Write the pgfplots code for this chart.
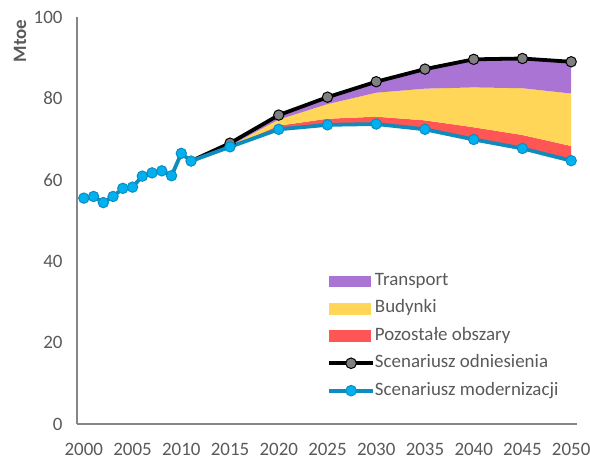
\documentclass[border=0pt]{standalone}
\usepackage{fontspec}
\setmainfont{Carlito}
\usepackage{pgfplots}
\pgfplotsset{compat=1.18}
\usepgfplotslibrary{fillbetween}
\definecolor{cpurple}{RGB}{170,116,212}
\definecolor{cyellow}{RGB}{255,214,88}
\definecolor{cred}{RGB}{255,85,85}
\definecolor{cblueline}{RGB}{14,140,190}
\definecolor{cbluefill}{RGB}{0,176,240}
\definecolor{cgrayfill}{RGB}{128,128,128}
\definecolor{ctext}{RGB}{89,89,89}
\definecolor{caxis}{RGB}{134,134,134}
\begin{document}
\begin{tikzpicture}
\path (0bp,0bp) rectangle (590bp,460bp);
\begin{axis}[
  at={(77bp,36bp)}, anchor=south west,
  scale only axis, width=500bp, height=407bp,
  xmin=1999.3, xmax=2050.6, ymin=0, ymax=100,
  axis x line*=bottom, axis y line*=left,
  axis line style={caxis, line width=1.4pt},
  xtick={2000,2005,...,2050}, ytick={0,20,...,100},
  major tick length=0pt,
  /pgf/number format/assume math mode=true,
  x tick label style={/pgf/number format/set thousands separator={}},
  tick label style={font=\fontsize{19}{22}\selectfont, text=ctext},
  yticklabel style={xshift=-11bp},
  xticklabel style={yshift=-16bp},
  legend cell align=left,
  legend style={at={(0.494,0.375)}, anchor=north west, draw=none, fill=none,
    font=\fontsize{19}{22}\selectfont, text=ctext, row sep=12.4bp,
    nodes={inner sep=0bp, text height=12bp, text depth=3bp}},
]
% boundaries
\addplot[draw=none, name path=blueb, forget plot] coordinates {(2015,68.1)(2020,72.4)(2025,73.5)(2030,73.7)(2035,72.4)(2040,69.9)(2045,67.7)(2050,64.7)};
\addplot[draw=none, name path=redb, forget plot] coordinates {(2015,68.2)(2020,73.3)(2025,75.0)(2030,75.5)(2035,74.6)(2040,72.9)(2045,71.0)(2050,68.3)};
\addplot[draw=none, name path=yelb, forget plot] coordinates {(2015,68.4)(2020,74.8)(2025,78.6)(2030,81.4)(2035,82.4)(2040,82.7)(2045,82.5)(2050,81.2)};
\addplot[draw=none, name path=blkb, forget plot] coordinates {(2015,69.0)(2020,75.9)(2025,80.3)(2030,84.1)(2035,87.2)(2040,89.6)(2045,89.8)(2050,89.0)};
\addplot[cred, forget plot] fill between[of=blueb and redb];
\addplot[cyellow, forget plot] fill between[of=redb and yelb];
\addplot[cpurple, forget plot] fill between[of=yelb and blkb];
% lines
\addplot[black, line width=3.8pt, mark=*, mark indices={2,3,4,5,6,7,8,9}, mark size=5.2bp,
  mark options={fill=cgrayfill, draw=black, line width=1pt}, forget plot]
  coordinates {(2011,64.6)(2015,69.0)(2020,75.9)(2025,80.3)(2030,84.1)(2035,87.2)(2040,89.6)(2045,89.8)(2050,89.0)};
\addplot[cblueline, line width=3.8pt, mark=*, mark size=5.2bp,
  mark options={fill=cbluefill, draw=cblueline, line width=1pt}, forget plot]
  coordinates {(2000,55.5)(2001,55.9)(2002,54.4)(2003,55.9)(2004,57.9)(2005,58.2)(2006,60.9)(2007,61.7)(2008,62.2)(2009,61.0)(2010,66.5)(2011,64.6)(2015,68.1)(2020,72.4)(2025,73.5)(2030,73.7)(2035,72.4)(2040,69.9)(2045,67.7)(2050,64.7)};
% legend
\addlegendimage{legend image code/.code={\fill[cpurple] (0bp,-5.3bp) rectangle (41bp,5.3bp);}}
\addlegendentry{Transport}
\addlegendimage{legend image code/.code={\fill[cyellow] (0bp,-5.3bp) rectangle (41bp,5.3bp);}}
\addlegendentry{Budynki}
\addlegendimage{legend image code/.code={\fill[cred] (0bp,-5.3bp) rectangle (41bp,5.3bp);}}
\addlegendentry{Pozostałe obszary}
\addlegendimage{legend image code/.code={\draw[black, line width=3.8pt] (0bp,0bp) -- (44bp,0bp); \filldraw[fill=cgrayfill, draw=black, line width=1pt] (22bp,0bp) circle (5.3bp);}}
\addlegendentry{Scenariusz odniesienia}
\addlegendimage{legend image code/.code={\draw[cblueline, line width=3.8pt] (0bp,0bp) -- (44bp,0bp); \filldraw[fill=cbluefill, draw=cblueline, line width=1pt] (22bp,0bp) circle (5.3bp);}}
\addlegendentry{Scenariusz modernizacji}
\end{axis}
\node[rotate=90, font=\bfseries\fontsize{19}{22}\selectfont, text=ctext] at (20bp,419bp) {Mtoe};
\pgfresetboundingbox
\useasboundingbox (0bp,0bp) rectangle (590bp,460bp);
\end{tikzpicture}
\end{document}
